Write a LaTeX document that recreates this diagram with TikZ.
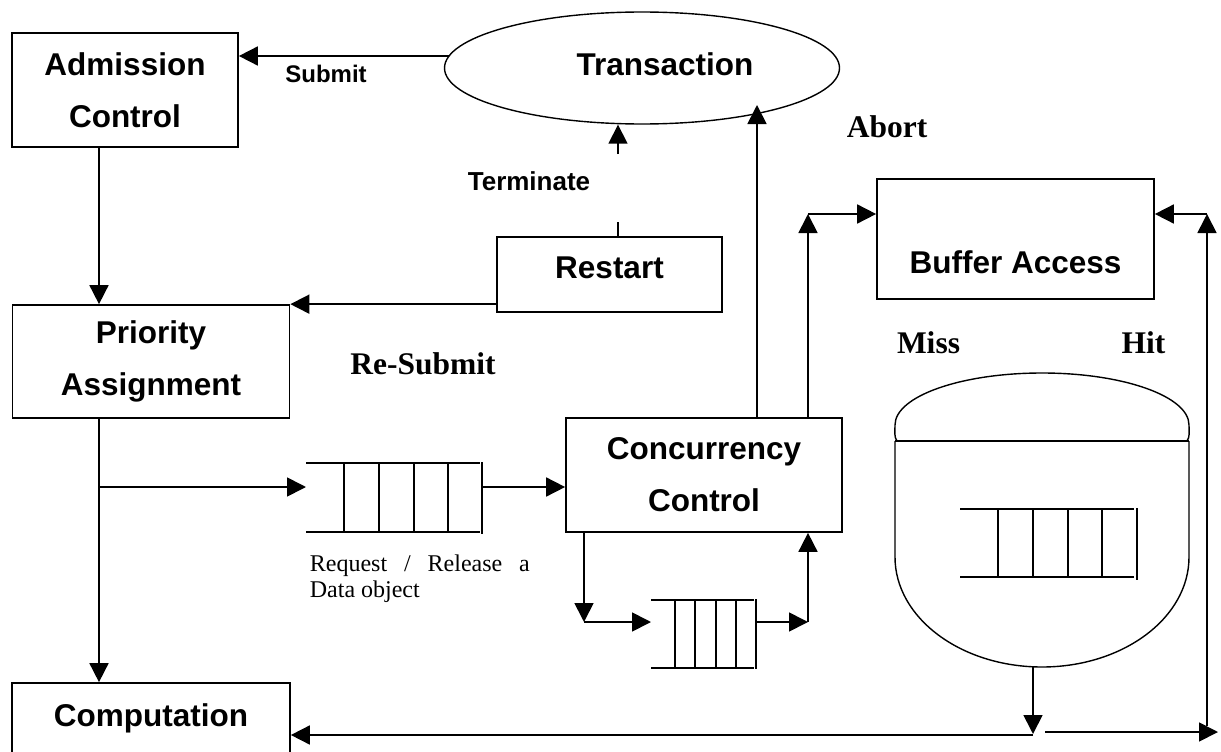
\documentclass[tikz,border=0pt]{standalone}
\usepackage{fontspec}
\setmainfont{Liberation Serif}
\setsansfont{Liberation Sans}
\usetikzlibrary{arrows.meta,shapes.geometric}
\begin{document}
\begin{tikzpicture}[x=1pt,y=-1pt,
  line width=1.7pt,
  arr/.style={-{Triangle[length=19pt,width=19pt]}},
  boxnode/.style={draw, rectangle, inner sep=0pt, align=center,
    font=\sffamily\bfseries\fontsize{31.5}{52}\selectfont},
  flowlbl/.style={font=\sffamily\bfseries\fontsize{24}{28}\selectfont, inner sep=0pt},
  statelbl/.style={font=\rmfamily\bfseries\fontsize{31.5}{36}\selectfont, inner sep=0pt},
  queue/.style={line width=1.5pt},
  thin outline/.style={line width=1.4pt}
]
\useasboundingbox (0,0) rectangle (1221,752);
\clip (0,0) rectangle (1221,752);

% processing stages
\node[boxnode, minimum width=226pt, minimum height=114pt] (adm) at (125,90) {Admission\\Control};
\node[boxnode, minimum width=277pt, minimum height=113pt] (pri) at (151,361.5) {Priority\\Assignment};
\node[boxnode, minimum width=225pt, minimum height=75pt, text height=22pt, text depth=15pt] (rst) at (609.5,274.5) {Restart};
\node[boxnode, minimum width=276pt, minimum height=114pt] (cc) at (704,475) {Concurrency\\Control};
\node[boxnode, minimum width=277pt, minimum height=120pt, text height=68pt, text depth=0pt] (buf) at (1015.5,239) {Buffer Access};
\node[boxnode, minimum width=278pt, minimum height=114pt, text height=22pt, text depth=50pt] (cmp) at (151,740) {Computation};
\node[draw, ellipse, thin outline, minimum width=395pt, minimum height=112pt, inner sep=0pt,
      font=\sffamily\bfseries\fontsize{31.5}{36}\selectfont, text height=22pt, text depth=8pt]
      (trans) at (642,68) {\hspace*{46pt}Transaction};

% labels
\node[flowlbl] (lsub) at (326,73.5) {Submit};
\node[flowlbl, font=\sffamily\bfseries\fontsize{26}{30}\selectfont] (lterm) at (529,181) {Terminate};
\node[statelbl] (labort) at (887,127) {Abort};
\node[statelbl] (lresub) at (423,364) {Re-Submit};
\node[statelbl] (lmiss) at (928.5,343) {Miss};
\node[statelbl] (lhit) at (1143.5,343) {Hit};
\node[anchor=north west, inner sep=0pt, align=left, font=\rmfamily\fontsize{24}{26}\selectfont]
      (lreq) at (309,554) {\makebox[220pt][s]{Request / Release a}\\Data object};

% waiting queues
\draw[queue] (306,463) -- (480,463) (306,532) -- (480,532);
\foreach \x in {344,379,414,448} \draw[queue] (\x,463) -- (\x,532);
\draw[queue] (482,462) -- (482,534);

\draw[queue] (651,600) -- (754,600) (651,668) -- (754,668);
\foreach \x in {675,695,716,736} \draw[queue] (\x,600) -- (\x,668);
\draw[queue] (756,599) -- (756,669);

% disk with its buffer queue
\draw[thin outline] (897,441) .. controls (894,437) and (895,432) .. (895,425)
  .. controls (895,396.3) and (960.8,373) .. (1042,373)
  .. controls (1123.2,373) and (1189,396.3) .. (1189,425)
  .. controls (1189,432) and (1190,437) .. (1187,441);
\draw[thin outline] (895,441) -- (1189,441);
\draw[thin outline] (895,441) -- (895,557)
  .. controls (895,617.8) and (960.8,667) .. (1042,667)
  .. controls (1123.2,667) and (1189,617.8) .. (1189,557) -- (1189,441);
\draw[queue] (960,509) -- (1134,509) (960,577) -- (1134,577);
\foreach \x in {998,1033,1068,1102} \draw[queue] (\x,509) -- (\x,577);
\draw[queue] (1137,508) -- (1137,580);

% connector end points
\coordinate (leftx) at (99,0);
\coordinate (subA) at (449,56);
\coordinate (termA) at (618,222);
\coordinate (termB) at (618,154);
\coordinate (abortx) at (757,105);
\coordinate (missC) at (808,214);
\coordinate (hitC) at (1207,214);
\coordinate (hitB) at (1207,726);
\coordinate (branch) at (99,487);
\coordinate (q1in) at (306,487);
\coordinate (q1out) at (482,487);
\coordinate (q2c1) at (584,622);
\coordinate (q2in) at (651,622);
\coordinate (q2out) at (756,622);
\coordinate (q2c2) at (808,622);
\coordinate (dskB) at (1033,667);
\coordinate (dskT) at (1033,734);
\coordinate (botL) at (1033,735);
\coordinate (botR1) at (1045,732);
\coordinate (botR2) at (1218,732);

% connectors
\draw[arr] (subA) -- (subA -| adm.east);
\draw[arr] (adm.south -| leftx) -- (pri.north -| leftx);
\draw[arr] (rst.west |- pri.north) -- (pri.north east);
\draw (rst.north -| termA) -- (termA);
\draw[arr] (termB) -- (trans.south -| termB);
\draw[arr] (cc.north -| abortx) -- (abortx);
\draw[arr] (cc.north -| missC) -- (missC);
\draw[arr] (missC) -- (missC -| buf.west);
\draw[arr] (hitB) -- (hitC);
\draw[arr] (hitC) -- (hitC -| buf.east);
\draw[arr] (pri.south -| leftx) -- (cmp.north -| leftx);
\draw[arr] (branch) -- (q1in);
\draw[arr] (q1out) -- (q1out -| cc.west);
\draw[arr] (cc.south -| q2c1) -- (q2c1);
\draw[arr] (q2c1) -- (q2in);
\draw[arr] (q2out) -- (q2c2);
\draw[arr] (q2c2) -- (cc.south -| q2c2);
\draw[arr] (dskB) -- (dskT);
\draw[arr] (botL) -- (botL -| cmp.east);
\draw[arr] (botR1) -- (botR2);
\end{tikzpicture}
\end{document}
